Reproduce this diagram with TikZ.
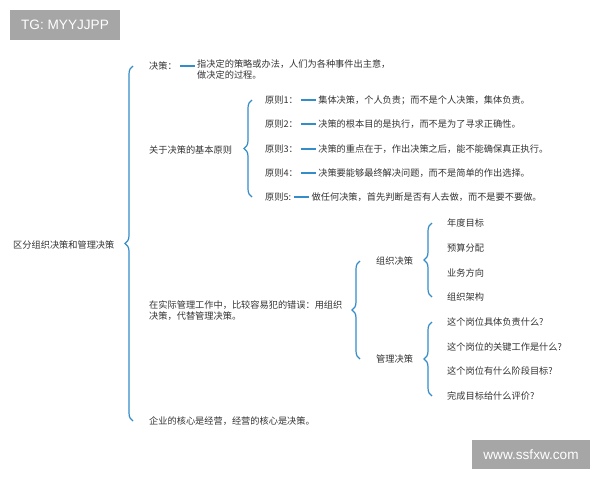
\documentclass[tikz,border=0pt]{standalone}
\usepackage{fontspec}
\setmainfont{Noto Sans CJK SC}
\newfontfamily\badgefont{Liberation Sans}
\usepackage{xcolor}
\usetikzlibrary{positioning,decorations.pathreplacing}
\definecolor{bracecol}{RGB}{52,140,200}
\definecolor{textcol}{RGB}{51,51,51}
\definecolor{badgecol}{RGB}{166,166,166}

\begin{document}
\begin{tikzpicture}[x=1pt, y=-1pt,
            bracestyle/.style={draw=bracecol, line width=1.2pt, decorate, decoration={brace, amplitude=8pt}},
            dashstyle/.style={draw=bracecol, line width=1.3pt, shorten >=1.5pt, shorten <=1.5pt}]
            % Text and badge styles
            \tikzstyle{textnode} = [anchor=west, inner sep=1pt, text=textcol, font=\fontsize{9.2}{11}\selectfont, align=left]
            \tikzstyle{badge} = [fill=badgecol, text=white, font=\badgefont\fontsize{13.6}{14}\selectfont, inner sep=0pt]
            \useasboundingbox (0,0) rectangle (600,480);

            % Badges
            \node (tg) [badge, minimum width=110pt, minimum height=30pt] at (65,25) {TG: MYYJJPP};
            \node (web) [badge, minimum width=118pt, minimum height=29pt] at (531,454.5) {www.ssfxw.com};

            % Define the nodes
            \node (root) [textnode] at (12,245) {区分组织决策和管理决策};
            \node (jc) [textnode] at (148,66) {决策：};
            \node (jcdef) [textnode] at (196,69) {指决定的策略或办法，人们为各种事件出主意，\\做决定的过程。};
            \node (yz) [textnode] at (148,150) {关于决策的基本原则};
            \node (p1) [textnode] at (264,100) {原则1：};
            \node (p1t) [textnode, right=18pt of p1] {集体决策，个人负责；而不是个人决策，集体负责。};
            \node (p2) [textnode] at (264,124) {原则2：};
            \node (p2t) [textnode, right=18pt of p2] {决策的根本目的是执行，而不是为了寻求正确性。};
            \node (p3) [textnode] at (264,149) {原则3：};
            \node (p3t) [textnode, right=18pt of p3] {决策的重点在于，作出决策之后，能不能确保真正执行。};
            \node (p4) [textnode] at (264,173) {原则4：};
            \node (p4t) [textnode, right=18pt of p4] {决策要能够最终解决问题，而不是简单的作出选择。};
            \node (p5) [textnode] at (264,197) {原则5:};
            \node (p5t) [textnode, right=18pt of p5] {做任何决策，首先判断是否有人去做，而不是要不要做。};
            \node (cw) [textnode] at (148,310.5) {在实际管理工作中，比较容易犯的错误：用组织\\决策，代替管理决策。};
            \node (zz) [textnode] at (375,261) {组织决策};
            \node (zz1) [textnode] at (446,223) {年度目标};
            \node (zz2) [textnode] at (446,248) {预算分配};
            \node (zz3) [textnode] at (446,273) {业务方向};
            \node (zz4) [textnode] at (446,297) {组织架构};
            \node (gl) [textnode] at (375,359) {管理决策};
            \node (gl1) [textnode] at (446,322) {这个岗位具体负责什么?};
            \node (gl2) [textnode] at (446,347) {这个岗位的关键工作是什么?};
            \node (gl3) [textnode] at (446,371) {这个岗位有什么阶段目标?};
            \node (gl4) [textnode] at (446,396) {完成目标给什么评价?};
            \node (hx) [textnode] at (148,421) {企业的核心是经营，经营的核心是决策。};

            % Draw the braces
            \draw [bracestyle] ([xshift=-15pt]hx.west) -- ([xshift=-15pt]jc.west);
            \draw [bracestyle] ([xshift=-12pt]p5.west) -- ([xshift=-12pt]p1.west);
            \draw [bracestyle] ([xshift=-15pt]gl.west) -- ([xshift=-15pt]zz.west);
            \draw [bracestyle] ([xshift=-14pt]zz4.west) -- ([xshift=-14pt]zz1.west);
            \draw [bracestyle] ([xshift=-14pt]gl4.west) -- ([xshift=-14pt]gl1.west);

            % Draw the dashes
            \draw [dashstyle] (jc.east) -- (jc.east -| jcdef.west);
            \draw [dashstyle] (p1) -- (p1t);
            \draw [dashstyle] (p2) -- (p2t);
            \draw [dashstyle] (p3) -- (p3t);
            \draw [dashstyle] (p4) -- (p4t);
            \draw [dashstyle] (p5) -- (p5t);
        \end{tikzpicture}
\end{document}
